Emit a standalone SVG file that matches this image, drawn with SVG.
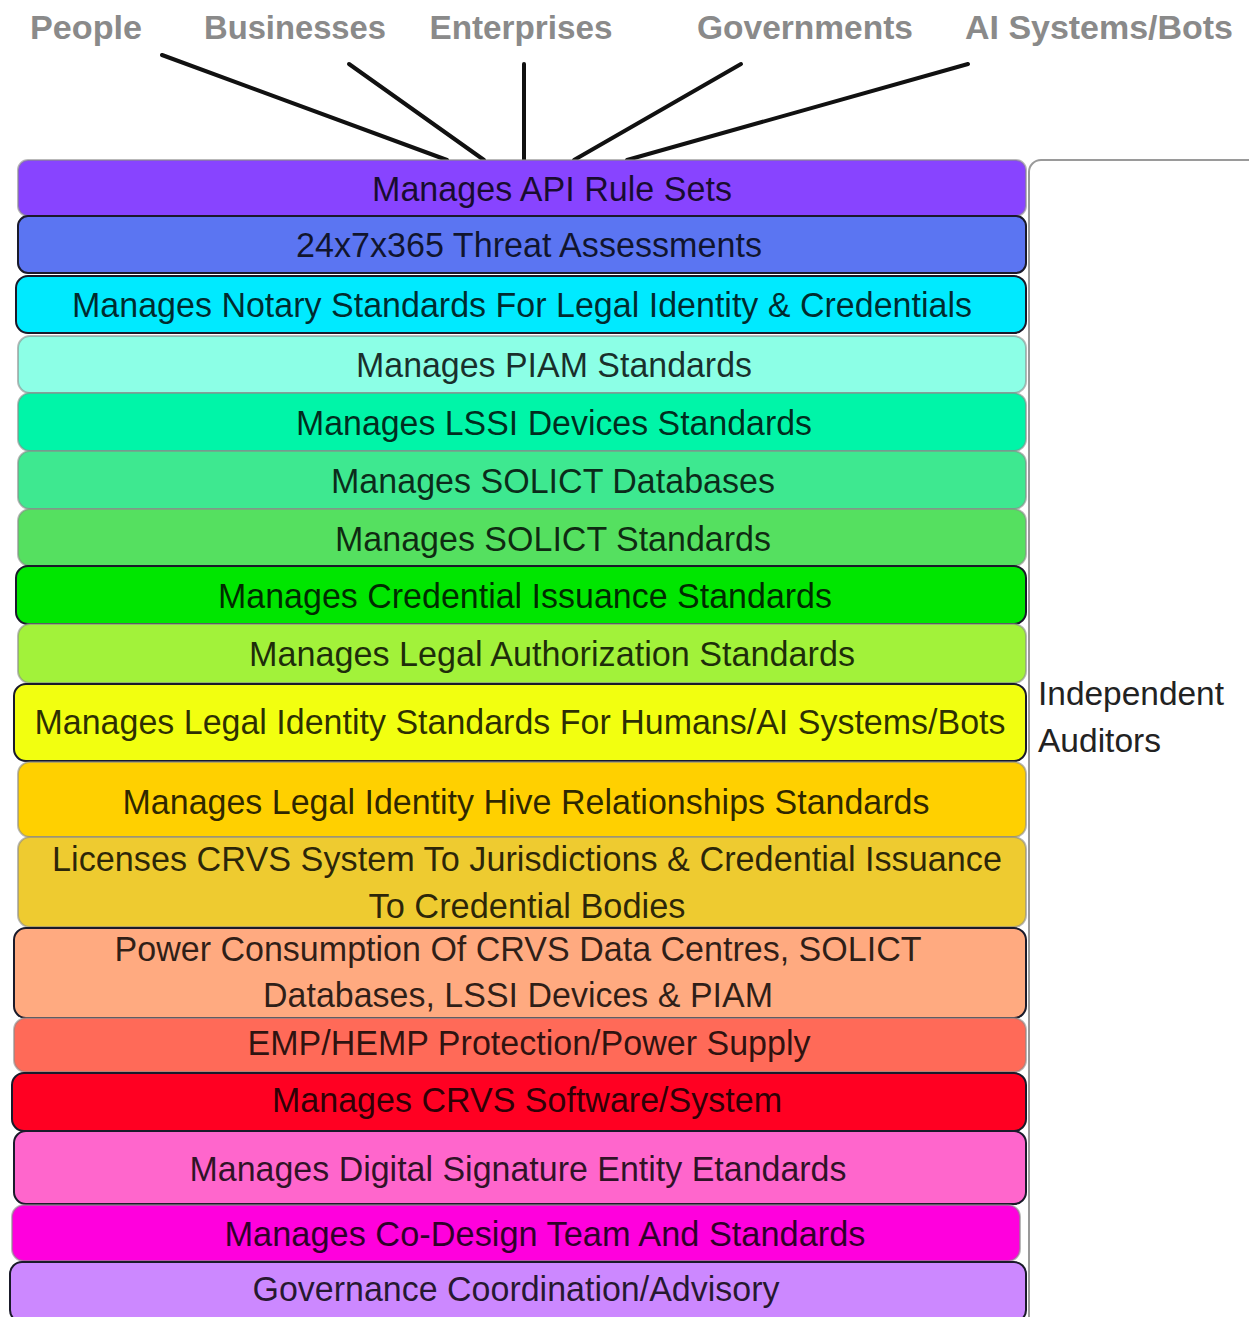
<svg xmlns="http://www.w3.org/2000/svg" width="1249" height="1317" viewBox="0 0 1249 1317">
<style>
.top{font-family:"Liberation Sans",Arial,sans-serif;font-size:34px;font-weight:bold;fill:#8a8a8a;text-anchor:middle}
.lbl{font-family:"Liberation Sans",Arial,sans-serif;font-size:35px;fill:#000;fill-opacity:0.82;text-anchor:middle}
.aud{font-family:"Liberation Sans",Arial,sans-serif;font-size:34px;fill:#222}
.bar{stroke-width:2}
.dk{stroke:#1a1a2a}
.lt{stroke:#8a8a8a;stroke-opacity:0.6}
.conn line{stroke:#111;stroke-width:4;stroke-linecap:round}
</style>
<rect width="1249" height="1317" fill="#fff"/>

<g id="auditors">
<rect x="1029" y="160" width="240" height="1175" rx="12" fill="#fff" stroke="#9a9a9a" stroke-width="2"/>
<text class="aud" x="1038" y="705" textLength="186" lengthAdjust="spacingAndGlyphs">Independent</text>
<text class="aud" x="1038" y="752" textLength="123" lengthAdjust="spacingAndGlyphs">Auditors</text>
</g>

<g id="sources">
<text class="top" x="86" y="39" textLength="112" lengthAdjust="spacingAndGlyphs">People</text>
<text class="top" x="295" y="39" textLength="182" lengthAdjust="spacingAndGlyphs">Businesses</text>
<text class="top" x="521" y="39" textLength="183" lengthAdjust="spacingAndGlyphs">Enterprises</text>
<text class="top" x="805" y="39" textLength="216" lengthAdjust="spacingAndGlyphs">Governments</text>
<text class="top" x="1099" y="39" textLength="268" lengthAdjust="spacingAndGlyphs">AI Systems/Bots</text>
</g>

<g id="connectors" class="conn">
<line x1="162" y1="55" x2="447" y2="160"/>
<line x1="349" y1="64" x2="484" y2="160"/>
<line x1="524" y1="64" x2="524" y2="160"/>
<line x1="741" y1="64" x2="574" y2="160"/>
<line x1="968" y1="64" x2="627" y2="160"/>
</g>

<g id="b1"><rect class="bar lt" x="18" y="160" width="1008" height="56" rx="10" fill="#8844ff"/><text class="lbl" x="552" y="201" textLength="360" lengthAdjust="spacingAndGlyphs">Manages API Rule Sets</text></g>
<g id="b2"><rect class="bar dk" x="18" y="216" width="1008" height="57" rx="10" fill="#5b75f2"/><text class="lbl" x="529" y="257" textLength="466" lengthAdjust="spacingAndGlyphs">24x7x365 Threat Assessments</text></g>
<g id="b3"><rect class="bar dk" x="16" y="276" width="1010" height="57" rx="12" fill="#00eaff"/><text class="lbl" x="522" y="317" textLength="900" lengthAdjust="spacingAndGlyphs">Manages Notary Standards For Legal Identity &amp; Credentials</text></g>
<g id="b4"><rect class="bar lt" x="18" y="336" width="1008" height="57" rx="12" fill="#8cffe6"/><text class="lbl" x="554" y="377" textLength="396" lengthAdjust="spacingAndGlyphs">Manages PIAM Standards</text></g>
<g id="b5"><rect class="bar lt" x="18" y="393" width="1008" height="58" rx="12" fill="#00f5a8"/><text class="lbl" x="554" y="435" textLength="516" lengthAdjust="spacingAndGlyphs">Manages LSSI Devices Standards</text></g>
<g id="b6"><rect class="bar lt" x="18" y="451" width="1008" height="58" rx="12" fill="#3ee890"/><text class="lbl" x="553" y="493" textLength="444" lengthAdjust="spacingAndGlyphs">Manages SOLICT Databases</text></g>
<g id="b7"><rect class="bar lt" x="18" y="509" width="1008" height="57" rx="12" fill="#55e060"/><text class="lbl" x="553" y="551" textLength="436" lengthAdjust="spacingAndGlyphs">Manages SOLICT Standards</text></g>
<g id="b8"><rect class="bar dk" x="16" y="566" width="1010" height="58" rx="12" fill="#00e600"/><text class="lbl" x="525" y="608" textLength="614" lengthAdjust="spacingAndGlyphs">Manages Credential Issuance Standards</text></g>
<g id="b9"><rect class="bar lt" x="18" y="624" width="1008" height="59" rx="12" fill="#a2f23a"/><text class="lbl" x="552" y="666" textLength="606" lengthAdjust="spacingAndGlyphs">Manages Legal Authorization Standards</text></g>
<g id="b10"><rect class="bar dk" x="14" y="684" width="1012" height="77" rx="12" fill="#f2ff10"/><text class="lbl" x="520" y="734" textLength="971" lengthAdjust="spacingAndGlyphs">Manages Legal Identity Standards For Humans/AI Systems/Bots</text></g>
<g id="b11"><rect class="bar lt" x="18" y="762" width="1008" height="75" rx="12" fill="#ffd000"/><text class="lbl" x="526" y="814" textLength="807" lengthAdjust="spacingAndGlyphs">Manages Legal Identity Hive Relationships Standards</text></g>
<g id="b12"><rect class="bar lt" x="18" y="837" width="1008" height="90" rx="12" fill="#eecb30"/><text class="lbl" x="527" y="871" textLength="950" lengthAdjust="spacingAndGlyphs">Licenses CRVS System To Jurisdictions &amp; Credential Issuance</text><text class="lbl" x="527" y="918" textLength="317" lengthAdjust="spacingAndGlyphs">To Credential Bodies</text></g>
<g id="b13"><rect class="bar dk" x="14" y="928" width="1012" height="90" rx="12" fill="#ffaa80"/><text class="lbl" x="518" y="961" textLength="807" lengthAdjust="spacingAndGlyphs">Power Consumption Of CRVS Data Centres, SOLICT</text><text class="lbl" x="518" y="1007" textLength="510" lengthAdjust="spacingAndGlyphs">Databases, LSSI Devices &amp; PIAM</text></g>
<g id="b14"><rect class="bar lt" x="14" y="1018" width="1012" height="54" rx="12" fill="#ff6a58"/><text class="lbl" x="529" y="1055" textLength="563" lengthAdjust="spacingAndGlyphs">EMP/HEMP Protection/Power Supply</text></g>
<g id="b15"><rect class="bar dk" x="12" y="1073" width="1014" height="58" rx="12" fill="#ff0022"/><text class="lbl" x="527" y="1112" textLength="510" lengthAdjust="spacingAndGlyphs">Manages CRVS Software/System</text></g>
<g id="b16"><rect class="bar dk" x="14" y="1131" width="1012" height="73" rx="12" fill="#ff66cc"/><text class="lbl" x="518" y="1181" textLength="657" lengthAdjust="spacingAndGlyphs">Manages Digital Signature Entity Etandards</text></g>
<g id="b17"><rect class="bar lt" x="12" y="1205" width="1008" height="56" rx="12" fill="#ff00dd"/><text class="lbl" x="545" y="1246" textLength="641" lengthAdjust="spacingAndGlyphs">Manages Co-Design Team And Standards</text></g>
<g id="b18"><rect class="bar dk" x="10" y="1262" width="1016" height="60" rx="12" fill="#cc88ff"/><text class="lbl" x="516" y="1301" textLength="527" lengthAdjust="spacingAndGlyphs">Governance Coordination/Advisory</text></g>
</svg>
